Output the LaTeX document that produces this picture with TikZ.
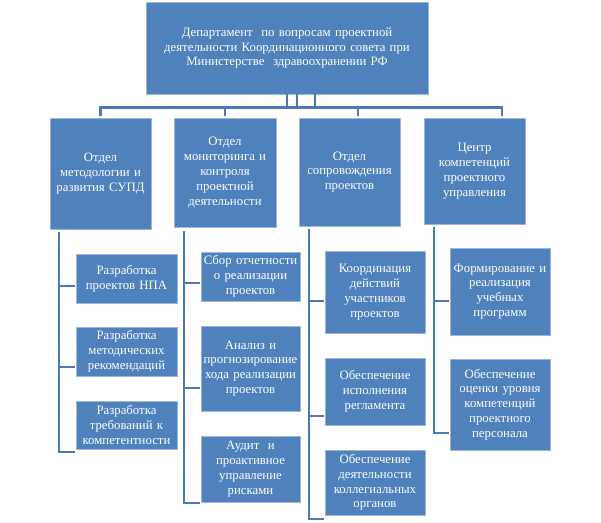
\documentclass[tikz,border=0pt]{standalone}
\usepackage{fontspec}
\setmainfont{Liberation Serif}
\definecolor{boxfill}{HTML}{4F81BD}
\definecolor{boxedge}{HTML}{9DB6DA}
\definecolor{linec}{HTML}{4A7AB5}
\begin{document}
\begin{tikzpicture}[x=1pt,y=-1pt,
  box/.style={draw=boxedge, line width=0.6pt, fill=boxfill, text=white, inner sep=0pt, align=center,
    font=\fontsize{12.8}{14.8}\selectfont},
  conn/.style={draw=linec, line width=2.3pt, line cap=rect}]
\useasboundingbox (0,0) rectangle (601,522);

% top
\node[box, minimum width=282pt, minimum height=92pt, text width=272pt] (top) at (287,48)
  {Департамент \ по вопросам проектной\\деятельности Координационного совета при\\Министерстве \ здравоохранении РФ};

% level 2
\node[box, minimum width=101pt, minimum height=111pt, text width=99pt] (b1) at (100.5,173.5)
  {Отдел\\методологии и\\развития СУПД};
\node[box, minimum width=102pt, minimum height=109pt, text width=100pt] (b2) at (225,172.5)
  {Отдел\\мониторинга и\\контроля\\проектной\\деятельности};
\node[box, minimum width=101pt, minimum height=108pt, text width=99pt] (b3) at (349.5,172)
  {Отдел\\сопровождения\\проектов};
\node[box, minimum width=101pt, minimum height=106pt, text width=99pt] (b4) at (474.5,171)
  {Центр\\компетенций\\проектного\\управления};

% children column 1
\node[box, minimum width=101pt, minimum height=49pt, text width=99pt] (c11) at (126.5,278.5)
  {Разработка\\проектов НПА};
\node[box, minimum width=101pt, minimum height=49pt, text width=99pt] (c12) at (126.5,351.5)
  {Разработка\\методических\\рекомендаций};
\node[box, minimum width=101pt, minimum height=48pt, text width=99pt] (c13) at (126.5,425)
  {Разработка\\требований к\\компетентности};

% children column 2
\node[box, minimum width=99pt, minimum height=49pt, text width=99pt] (c21) at (250.5,276.5)
  {Сбор отчетности\\о реализации\\проектов};
\node[box, minimum width=99pt, minimum height=85pt, text width=99pt] (c22) at (250.5,368.5)
  {Анализ и\\прогнозирование\\хода реализации\\проектов};
\node[box, minimum width=99pt, minimum height=66pt, text width=99pt] (c23) at (250.5,469)
  {Аудит \ и\\проактивное\\управление\\рисками};

% children column 3
\node[box, minimum width=100pt, minimum height=82pt, text width=98pt] (c31) at (375,292)
  {Координация\\действий\\участников\\проектов};
\node[box, minimum width=100pt, minimum height=67pt, text width=98pt] (c32) at (375,391.5)
  {Обеспечение\\исполнения\\регламента};
\node[box, minimum width=100pt, minimum height=65pt, text width=98pt] (c33) at (375,482.5)
  {Обеспечение\\деятельности\\коллегиальных\\органов};

% children column 4
\node[box, minimum width=100pt, minimum height=87pt, text width=100pt] (c41) at (500,291.5)
  {Формирование и\\реализация\\учебных\\программ};
\node[box, minimum width=100pt, minimum height=91pt, text width=98pt] (c42) at (500,404.5)
  {Обеспечение\\оценки уровня\\компетенций\\проектного\\персонала};

% bus coordinates
\coordinate (s1) at (287,107.5);
\coordinate (s2) at (297,107.5);
\coordinate (s3) at (315,107.5);
\coordinate (busL) at (100.5,107.5);
\coordinate (busR) at (502,107.5);
\coordinate (d2) at (225,107.5);
\coordinate (d3) at (358,107.5);

\draw[conn] (top.south -| s1) -- (s1);
\draw[conn] (top.south -| s2) -- (s2);
\draw[conn] (top.south -| s3) -- (s3);
\draw[conn] (busL) -- (busR);
\draw[conn, shorten >=2.5pt] (busL) -- (b1.north);
\draw[conn, shorten >=2.5pt] (d2) -- (d2 |- b2.north);
\draw[conn, shorten >=2.5pt] (d3) -- (d3 |- b3.north);
\draw[conn, shorten >=2.5pt] (busR) -- (busR |- b4.north);

% column 1
\coordinate (v1t) at (59,233);
\coordinate (v1b) at (59,452);
\coordinate (k11) at (59,286);
\coordinate (k12) at (59,367);
\draw[conn] (v1t) -- (v1b) -- ([xshift=-2pt]c13.west |- v1b);
\draw[conn, shorten >=2pt] (k11) -- (c11.west |- k11);
\draw[conn, shorten >=2pt] (k12) -- (c12.west |- k12);

% column 2
\coordinate (v2t) at (184,232);
\coordinate (v2b) at (184,503);
\coordinate (k21) at (184,283);
\coordinate (k22) at (184,388);
\draw[conn] (v2t) -- (v2b) -- ([xshift=-2pt]c23.west |- v2b);
\draw[conn, shorten >=2pt] (k21) -- (c21.west |- k21);
\draw[conn, shorten >=2pt] (k22) -- (c22.west |- k22);

% column 3
\coordinate (v3t) at (309,230);
\coordinate (v3b) at (309,519);
\coordinate (k31) at (309,301);
\coordinate (k32) at (309,416);
\draw[conn] (v3t) -- (v3b) -- ([xshift=-2pt]c33.west |- v3b);
\draw[conn, shorten >=2pt] (k31) -- (c31.west |- k31);
\draw[conn, shorten >=2pt] (k32) -- (c32.west |- k32);

% column 4
\coordinate (v4t) at (434,228);
\coordinate (v4b) at (434,433);
\coordinate (k41) at (434,301);
\draw[conn] (v4t) -- (v4b) -- ([xshift=-2pt]c42.west |- v4b);
\draw[conn, shorten >=2pt] (k41) -- (c41.west |- k41);
\end{tikzpicture}
\end{document}
